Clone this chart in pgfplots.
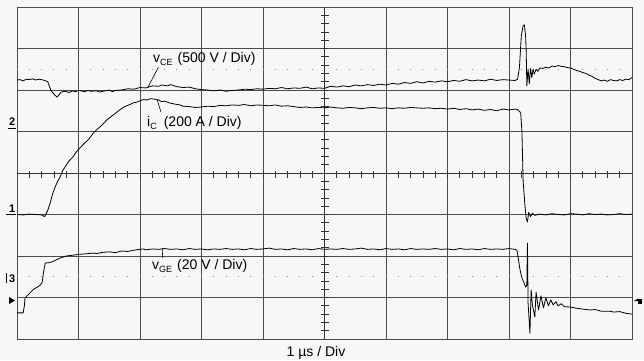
\documentclass[border=0pt]{standalone}
\usepackage{pgfplots}
\pgfplotsset{compat=1.18}
\usepackage{fontspec}
\setmainfont{Liberation Sans}
\begin{document}
\begin{tikzpicture}[x=1pt,y=1pt]
\fill[black!3] (0,0) rectangle (644,360);
\begin{axis}[
  at={(17pt,21pt)}, anchor=south west,
  scale only axis, width=615pt, height=332pt,
  xmin=0, xmax=10, ymin=0, ymax=8,
  xtick={0,...,10}, ytick={0,...,8},
  xticklabels={}, yticklabels={},
  major tick length=0pt,
  grid=major,
  major grid style={black!70, line width=0.8pt},
  axis line style={black!70, line width=0.9pt},
  clip=true,
]
% dotted reference lines
\draw[black!45, line width=1pt, dash pattern=on 1pt off 11.3pt, dash phase=0.5pt] (axis cs:0,6.5) -- (axis cs:10,6.5);
\draw[black!45, line width=1pt, dash pattern=on 1pt off 11.3pt, dash phase=0.5pt] (axis cs:0,1.5) -- (axis cs:10,1.5);
% center lines thicker
\draw[black!80, line width=1pt] (axis cs:5,0) -- (axis cs:5,8);
\draw[black!80, line width=1pt] (axis cs:0,4) -- (axis cs:10,4);

% v_CE
\addplot[black, line width=0.8pt, line join=round] coordinates {
(0,6.24)(0.05,6.25)(0.1,6.22)(0.15,6.26)(0.2,6.25)(0.25,6.27)(0.3,6.24)(0.35,6.26)(0.4,6.25)(0.45,6.23)(0.5,6.2)(0.55,6.0)(0.6,5.9)(0.65,5.83)(0.68,5.88)(0.72,5.95)(0.78,5.97)(0.85,5.94)(0.9,5.98)(0.95,5.96)(1.0,5.99)(1.1,5.96)(1.15,5.99)(1.2,5.97)(1.3,5.98)(1.35,5.95)(1.4,5.97)(1.5,6.0)(1.55,5.96)(1.6,5.99)(1.7,6.0)(1.8,6.03)(1.9,6.02)(2.0,6.06)(2.1,6.05)(2.2,6.1)(2.3,6.09)(2.35,6.12)(2.45,6.1)(2.5,6.13)(2.6,6.08)(2.7,6.06)(2.8,6.07)(2.9,6.03)(3.0,6.01)(3.1,6.0)(3.2,5.98)(3.3,6.0)(3.4,5.97)(3.5,5.99)(3.6,6.0)(3.7,6.02)(3.8,6.01)(3.9,6.03)(4.0,6.02)(4.1,6.04)(4.2,6.03)(4.3,6.06)(4.4,6.03)(4.5,6.05)(4.6,6.04)(4.7,6.07)(4.8,6.03)(4.9,6.05)(5.0,6.04)(5.1,6.09)(5.2,6.07)(5.3,6.1)(5.4,6.08)(5.5,6.12)(5.6,6.1)(5.7,6.13)(5.8,6.11)(5.9,6.14)(6.0,6.12)(6.1,6.16)(6.2,6.14)(6.3,6.18)(6.4,6.16)(6.5,6.2)(6.6,6.17)(6.7,6.21)(6.8,6.19)(6.9,6.22)(7.0,6.2)(7.1,6.23)(7.2,6.21)(7.3,6.25)(7.4,6.22)(7.5,6.24)(7.6,6.22)(7.7,6.26)(7.8,6.23)(7.9,6.25)(8.0,6.24)(8.1,6.23)(8.14,6.26)(8.17,6.55)(8.2,7.3)(8.23,7.55)(8.25,7.57)(8.27,7.3)(8.28,6.9)(8.29,6.1)(8.31,6.5)(8.33,6.15)(8.35,6.52)(8.37,6.3)(8.39,6.5)(8.41,6.38)(8.44,6.5)(8.47,6.45)(8.5,6.53)(8.55,6.52)(8.6,6.55)(8.65,6.53)(8.7,6.58)(8.75,6.56)(8.8,6.59)(8.85,6.57)(8.9,6.56)(8.95,6.54)(9.0,6.53)(9.05,6.5)(9.1,6.47)(9.15,6.45)(9.2,6.42)(9.25,6.4)(9.3,6.36)(9.35,6.33)(9.4,6.28)(9.45,6.25)(9.5,6.22)(9.55,6.24)(9.6,6.21)(9.65,6.25)(9.7,6.23)(9.75,6.22)(9.8,6.25)(9.85,6.23)(9.9,6.26)(9.95,6.25)(10,6.3)
};

% i_C
\addplot[black, line width=0.8pt, line join=round] coordinates {
(0,3.0)(0.1,2.99)(0.2,3.01)(0.3,3.0)(0.4,2.99)(0.45,2.95)(0.5,3.1)(0.54,3.28)(0.58,3.5)(0.62,3.66)(0.66,3.8)(0.7,3.9)(0.74,4.05)(0.78,4.14)(0.84,4.28)(0.91,4.39)(0.96,4.5)(1.02,4.6)(1.1,4.72)(1.17,4.82)(1.24,4.96)(1.3,5.05)(1.38,5.15)(1.46,5.28)(1.53,5.36)(1.6,5.44)(1.67,5.52)(1.75,5.6)(1.82,5.64)(1.89,5.69)(1.95,5.71)(2.0,5.74)(2.06,5.77)(2.11,5.76)(2.17,5.79)(2.24,5.78)(2.3,5.76)(2.35,5.72)(2.4,5.73)(2.5,5.68)(2.57,5.66)(2.65,5.64)(2.7,5.61)(2.8,5.6)(2.9,5.58)(3.0,5.59)(3.1,5.61)(3.2,5.6)(3.3,5.63)(3.4,5.62)(3.5,5.64)(3.6,5.63)(3.7,5.65)(3.8,5.62)(3.9,5.64)(4.0,5.63)(4.1,5.62)(4.2,5.64)(4.3,5.61)(4.4,5.62)(4.5,5.6)(4.6,5.58)(4.7,5.59)(4.8,5.57)(4.9,5.58)(5.0,5.57)(5.1,5.59)(5.2,5.57)(5.3,5.56)(5.4,5.58)(5.5,5.57)(5.6,5.55)(5.7,5.57)(5.8,5.58)(5.9,5.56)(6.0,5.57)(6.1,5.55)(6.2,5.57)(6.3,5.56)(6.4,5.58)(6.5,5.57)(6.6,5.56)(6.7,5.57)(6.8,5.55)(6.9,5.56)(7.0,5.54)(7.1,5.56)(7.2,5.53)(7.3,5.55)(7.4,5.52)(7.5,5.54)(7.6,5.51)(7.7,5.53)(7.8,5.5)(7.9,5.54)(8.0,5.52)(8.1,5.54)(8.15,5.52)(8.19,5.45)(8.21,5.0)(8.23,3.8)(8.26,3.2)(8.28,2.9)(8.3,2.82)(8.32,3.05)(8.35,2.95)(8.38,3.03)(8.42,2.98)(8.5,3.01)(8.6,2.99)(8.7,3.02)(8.8,3.0)(8.9,2.99)(9.0,3.02)(9.1,3.01)(9.2,2.99)(9.3,3.02)(9.4,3.0)(9.5,3.01)(9.6,2.99)(9.7,3.0)(9.8,3.02)(9.9,3.0)(10,3.01)
};

% v_GE
\addplot[black, line width=0.8pt, line join=round] coordinates {
(0,0.63)(0.1,0.63)(0.12,0.8)(0.13,0.99)(0.17,1.05)(0.21,1.11)(0.27,1.2)(0.33,1.25)(0.38,1.3)(0.41,1.37)(0.43,1.6)(0.46,1.83)(0.52,1.84)(0.57,1.86)(0.63,1.9)(0.7,1.95)(0.8,2.0)(0.91,2.02)(1.0,2.04)(1.1,2.05)(1.24,2.07)(1.3,2.06)(1.4,2.09)(1.51,2.1)(1.6,2.08)(1.7,2.12)(1.8,2.11)(1.9,2.14)(2.05,2.17)(2.1,2.15)(2.2,2.17)(2.3,2.16)(2.4,2.18)(2.5,2.16)(2.6,2.17)(2.7,2.15)(2.8,2.18)(2.9,2.16)(3.0,2.17)(3.1,2.15)(3.2,2.17)(3.3,2.16)(3.4,2.18)(3.5,2.16)(3.6,2.17)(3.7,2.15)(3.8,2.18)(3.9,2.16)(4.0,2.17)(4.1,2.19)(4.2,2.16)(4.3,2.17)(4.4,2.15)(4.5,2.18)(4.6,2.16)(4.7,2.17)(4.8,2.15)(4.9,2.18)(5.0,2.16)(5.1,2.17)(5.2,2.16)(5.3,2.18)(5.4,2.16)(5.5,2.17)(5.6,2.19)(5.7,2.16)(5.8,2.17)(5.9,2.15)(6.0,2.18)(6.1,2.16)(6.2,2.17)(6.3,2.15)(6.4,2.18)(6.5,2.16)(6.6,2.17)(6.7,2.16)(6.8,2.18)(6.9,2.16)(7.0,2.17)(7.1,2.15)(7.2,2.18)(7.3,2.16)(7.4,2.17)(7.5,2.15)(7.6,2.18)(7.7,2.16)(7.8,2.17)(7.9,2.16)(8.0,2.18)(8.1,2.16)(8.13,2.14)(8.18,1.66)(8.21,1.47)(8.24,1.37)(8.27,1.25)(8.29,1.3)(8.3,2.31)(8.31,0.87)(8.34,0.14)(8.36,1.18)(8.38,0.82)(8.42,0.53)(8.44,1.13)(8.48,0.7)(8.52,1.04)(8.56,0.75)(8.6,0.99)(8.64,0.8)(8.68,0.94)(8.72,0.82)(8.76,0.9)(8.8,0.8)(8.85,0.85)(8.9,0.78)(9.0,0.77)(9.1,0.74)(9.2,0.72)(9.32,0.7)(9.4,0.71)(9.5,0.67)(9.64,0.67)(9.7,0.65)(9.8,0.66)(9.9,0.62)(10,0.6)
};

% leader lines
\draw[black, line width=0.6pt] (axis cs:2.30,6.55) -- (axis cs:2.13,6.07);
\draw[black, line width=0.6pt] (axis cs:2.34,5.47) -- (axis cs:2.28,5.76);
\draw[black, line width=0.6pt] (axis cs:2.37,1.95) -- (axis cs:2.36,2.19);
\end{axis}

% minor ticks on the centre lines
\foreach \i in {1,...,49} {
  \draw[black!80, line width=0.8pt] (17+12.3*\i,182.5) -- (17+12.3*\i,189.5);
}
\foreach \j in {1,...,39} {
  \draw[black!80, line width=0.8pt] (320.5,21+8.3*\j) -- (328.5,21+8.3*\j);
}

% labels
\fontsize{14}{16}\selectfont
\node[anchor=base west, inner sep=0pt] at (153,298) {v\raisebox{-3pt}{\fontsize{9}{9}\selectfont CE}\hspace{5pt}(500 V / Div)};
\node[anchor=base west, inner sep=0pt] at (147,234) {i\raisebox{-3pt}{\fontsize{9}{9}\selectfont C}\hspace{7pt}(200 A / Div)};
\node[anchor=base west, inner sep=0pt] at (152,91) {v\raisebox{-3pt}{\fontsize{9}{9}\selectfont GE}\hspace{5pt}(20 V / Div)};
\node[anchor=base, inner sep=0pt] at (316,4) {1 µs / Div};

% channel markers
\node[anchor=base west, inner sep=0pt, font=\fontsize{11}{11}\selectfont\bfseries] at (9,235) {2};
\draw[black, line width=0.8pt] (8,232) -- (16,232);
\node[anchor=base west, inner sep=0pt, font=\fontsize{11}{11}\selectfont\bfseries] at (9,148) {1};
\draw[black, line width=0.8pt] (6,146) -- (16,146);
\node[anchor=base west, inner sep=0pt, font=\fontsize{11}{11}\selectfont\bfseries] at (9,78) {3};
\draw[black, line width=0.8pt] (6,77) -- (6,87);
\fill[black] (9,56) -- (15,59.5) -- (9,63) -- cycle;
\fill[black] (638,56.5) rectangle (642,61.5);
\fill[black] (638,59) -- (634,59) -- (638,61.5) -- (638,56.5) -- cycle;
\end{tikzpicture}
\end{document}
